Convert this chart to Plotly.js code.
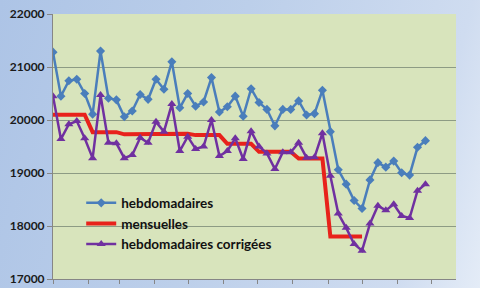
<!DOCTYPE html>
<html>
<head>
<meta charset="utf-8">
<script src="https://cdn.plot.ly/plotly-3.0.1.min.js"></script>
<style>
  html, body { margin: 0; padding: 0; }
  #chart { width: 480px; height: 288px;
    background: linear-gradient(105deg, #adc4e6 0%, #bccfea 45%, #cfdcf0 85%, #e4ecf7 100%); }
</style>
</head>
<body>
<div id="chart"></div>
<script>
const weeks = [
  '2009-01-01','2009-01-08','2009-01-15','2009-01-22','2009-01-29',
  '2009-02-05','2009-02-12','2009-02-19','2009-02-26',
  '2009-03-05','2009-03-12','2009-03-19','2009-03-26',
  '2009-04-02','2009-04-09','2009-04-16','2009-04-23','2009-04-30',
  '2009-05-07','2009-05-14','2009-05-21','2009-05-28',
  '2009-06-04','2009-06-11','2009-06-18','2009-06-25',
  '2009-07-02','2009-07-09','2009-07-16','2009-07-23','2009-07-30',
  '2009-08-06','2009-08-13','2009-08-20','2009-08-27',
  '2009-09-03','2009-09-10','2009-09-17','2009-09-24',
  '2009-10-01','2009-10-08','2009-10-15','2009-10-22','2009-10-29',
  '2009-11-05','2009-11-12','2009-11-19','2009-11-26'
];

const hebdomadaires = [
  21280, 20450, 20740, 20770, 20500, 20110, 21300, 20410, 20380, 20060,
  20170, 20480, 20390, 20770, 20580, 21100, 20230, 20500, 20260, 20340,
  20800, 20150, 20250, 20450, 20070, 20590, 20330, 20200, 19890, 20200,
  20200, 20360, 20095, 20120, 20560, 19780, 19060, 18790, 18480, 18330,
  18870, 19195, 19110, 19225, 19005, 18960, 19485, 19610
];

const mensuelles = [
  20100, 20100, 20100, 20100, 20100,
  19770, 19770, 19770, 19770,
  19730, 19730, 19730, 19730,
  19740, 19740, 19740, 19740, 19740,
  19715, 19715, 19715, 19715,
  19550, 19550, 19550, 19550,
  19400, 19400, 19400, 19400, 19400,
  19275, 19275, 19275, 19275,
  17800, 17800, 17800, 17800, 17800
];

const corrigees = [
  20450, 19640, 19920, 19980, 19655, 19280, 20470, 19570, 19560, 19280,
  19340, 19665, 19570, 19965, 19780, 20300, 19415, 19685, 19455, 19500,
  20000, 19320, 19415, 19655, 19265, 19790, 19500, 19370, 19075, 19390,
  19390, 19570, 19290, 19295, 19750, 18950, 18235, 17965, 17660, 17535,
  18045, 18380, 18295, 18410, 18190, 18150, 18665, 18790
];

const seriesNames = ['hebdomadaires', 'mensuelles', 'hebdomadaires corrigées'];

const traces = [
  {
    x: weeks, y: hebdomadaires, name: seriesNames[0], type: 'scatter', mode: 'lines+markers',
    line: { color: '#4a7ebb', width: 2.5 },
    marker: { symbol: 'diamond', size: 7, color: '#4a7ebb' }
  },
  {
    x: weeks.slice(0, mensuelles.length), y: mensuelles, name: seriesNames[1], type: 'scatter', mode: 'lines',
    line: { color: '#e8221b', width: 4 }
  },
  {
    x: weeks, y: corrigees, name: seriesNames[2], type: 'scatter', mode: 'lines+markers',
    line: { color: '#7030a0', width: 2.5 },
    marker: { symbol: 'triangle-up', size: 8, color: '#7030a0' }
  }
];

const layout = {
  width: 480, height: 288,
  margin: { l: 53, r: 24, t: 14, b: 9, pad: 0 },
  paper_bgcolor: 'rgba(0,0,0,0)',
  plot_bgcolor: '#d8e4bc',
  showlegend: true,
  legend: {
    x: 0.07, y: 0.345, xanchor: 'left', yanchor: 'top',
    bgcolor: 'rgba(0,0,0,0)',
    font: { family: 'Lato, sans-serif', size: 13.5, color: '#111111', weight: 'bold' },
    itemwidth: 30, tracegroupgap: 0
  },
  xaxis: {
    type: 'date',
    range: ['2009-01-01', '2009-12-23'],
    showgrid: false, zeroline: false,
    showticklabels: false,
    ticks: 'outside', ticklen: 4, tickcolor: '#868686',
    tick0: '2009-01-01', dtick: 'M1',
    showline: true, linecolor: '#868686', linewidth: 1
  },
  yaxis: {
    range: [17000, 22000], dtick: 1000, tickformat: 'd',
    showgrid: true, gridcolor: '#8d9b84', gridwidth: 1,
    zeroline: false,
    ticks: 'outside', ticklen: 5, tickcolor: '#868686',
    showline: true, linecolor: '#868686', linewidth: 1,
    tickfont: { family: 'Lato, sans-serif', size: 12, color: '#1a1a1a', weight: 'bold' }
  }
};

Plotly.newPlot('chart', traces, layout, { displayModeBar: false, staticPlot: true });
</script>
</body>
</html>
